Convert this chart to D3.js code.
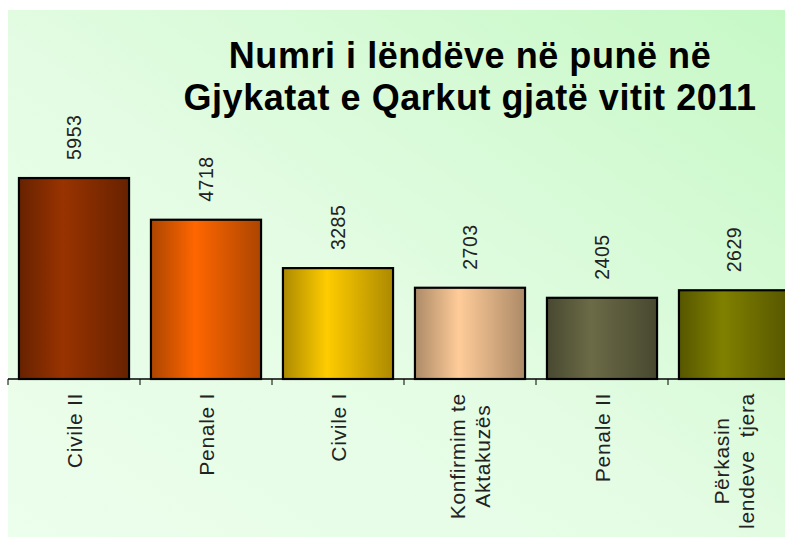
<!DOCTYPE html>
<meta charset="utf-8">
<title>Numri i lëndëve në punë</title>
<style>
  body { margin: 0; background: white; }
  svg { font-family: Arial, "Liberation Sans", sans-serif; display: block; }
</style>
<body>
<div id="chart"></div>
<script src="https://d3js.org/d3.v7.min.js"></script>
<script>

// data
const categories = ["Civile II", "Penale I", "Civile I", "Konfirmim te\nAktakuzës", "Penale II", "Përkasin\nlendeve  tjera"];
const values = [5953, 4718, 3285, 2703, 2405, 2629];
const barColors = ["#993300", "#ff6600", "#ffcc00", "#ffcc99", "#6b6b47", "#808000"];
const titleLines = ["Numri i lëndëve në punë në", "Gjykatat e Qarkut gjatë vitit 2011"];

const W = 785, H = 537;
const plot = {left: 8, base: 379};

const svg = d3.select("#chart").append("svg")
  .attr("width", W)
  .attr("height", H);

const defs = svg.append("defs");

// background gradient, pale at bottom-left, greener at top-right
const bg = defs.append("linearGradient")
  .attr("id", "bg")
  .attr("x1", "0%").attr("y1", "100%")
  .attr("x2", "100%").attr("y2", "0%");
bg.append("stop").attr("offset", "0%").attr("stop-color", "#ecfeec");
bg.append("stop").attr("offset", "45%").attr("stop-color", "#e4fce4");
bg.append("stop").attr("offset", "100%").attr("stop-color", "#c6f8c6");

svg.append("rect")
  .attr("x", 8).attr("y", 10)
  .attr("width", W - 8).attr("height", H - 10)
  .attr("fill", "url(#bg)");

// one horizontal gradient per bar: dark edges, bright centre
barColors.forEach(function(c, i) {
  const dark = d3.color(c).darker(1.1);
  const g = defs.append("linearGradient")
    .attr("id", "bar" + i)
    .attr("x1", "0%").attr("x2", "100%").attr("y1", "0%").attr("y2", "0%");
  g.append("stop").attr("offset", "0%").attr("stop-color", dark);
  g.append("stop").attr("offset", "40%").attr("stop-color", c);
  g.append("stop").attr("offset", "100%").attr("stop-color", dark);
});

const x = d3.scaleBand()
  .domain(categories)
  .range([plot.left, plot.left + 132 * categories.length])
  .paddingInner(0.166)
  .paddingOuter(0.083);

const y = d3.scaleLinear()
  .domain([0, 7000])
  .range([plot.base, plot.base - 236.3]);

// title
svg.append("text")
  .attr("x", 470)
  .attr("y", 68)
  .attr("text-anchor", "middle")
  .style("font-size", "36px")
  .style("font-weight", "bold")
  .style("letter-spacing", "0.55px")
  .selectAll("tspan")
  .data(titleLines)
  .enter().append("tspan")
    .attr("x", 470)
    .attr("dy", function(d, i) { return i === 0 ? 0 : 42; })
    .text(function(d) { return d; });

// bars
svg.selectAll("rect.bar")
  .data(values)
  .enter().append("rect")
    .attr("class", "bar")
    .attr("x", function(d, i) { return x(categories[i]); })
    .attr("y", function(d) { return y(d); })
    .attr("width", x.bandwidth())
    .attr("height", function(d) { return y(0) - y(d); })
    .attr("fill", function(d, i) { return "url(#bar" + i + ")"; })
    .attr("stroke", "#000")
    .attr("stroke-width", 2.2);

// value labels, rotated
svg.selectAll("text.val")
  .data(values)
  .enter().append("text")
    .attr("class", "val")
    .attr("transform", function(d, i) {
      return "translate(" + (x(categories[i]) + x.bandwidth() / 2) + "," + (y(d) - 18) + ") rotate(-90)";
    })
    .attr("dy", "0.36em")
    .style("font-size", "19.5px")
    .style("letter-spacing", "0.5px")
    .attr("fill", "#222")
    .text(function(d) { return d; });

// axis line and ticks at band boundaries
svg.append("line")
  .attr("x1", plot.left).attr("x2", W)
  .attr("y1", plot.base).attr("y2", plot.base)
  .attr("stroke", "#000").attr("stroke-width", 1.5);

const step = x.step();
svg.selectAll("line.tick")
  .data(categories)
  .enter().append("line")
    .attr("class", "tick")
    .attr("x1", function(d) { return x(d) - step * 0.083; })
    .attr("x2", function(d) { return x(d) - step * 0.083; })
    .attr("y1", plot.base)
    .attr("y2", plot.base + 6)
    .attr("stroke", "#000").attr("stroke-width", 1);

// category labels, rotated, top aligned under the axis, lines centred
const labelTop = 393;
categories.forEach(function(cat) {
  const lines = cat.split("\n");
  const g = svg.append("text")
    .style("font-size", "21px")
    .style("letter-spacing", "0.7px")
    .style("white-space", "pre")
    .attr("fill", "#222")
    .attr("text-anchor", "middle");
  const spans = g.selectAll("tspan")
    .data(lines)
    .enter().append("tspan")
      .attr("x", 0)
      .attr("dy", function(d, i) { return i === 0 ? (0.36 * 21 - (lines.length - 1) * 12.5) : 25; })
      .text(function(d) { return d; });
  let maxLen = 0;
  spans.each(function() { maxLen = Math.max(maxLen, this.getComputedTextLength()); });
  g.attr("transform", "translate(" + (x(cat) + x.bandwidth() / 2) + "," + (labelTop + maxLen / 2) + ") rotate(-90)");
});

</script>
</body>
